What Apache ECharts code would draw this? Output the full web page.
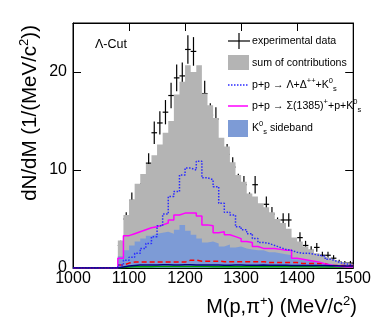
<!DOCTYPE html>
<html>
<head>
<meta charset="utf-8">
<script src="https://cdn.jsdelivr.net/npm/echarts@6/dist/echarts.min.js"></script>
<style>
html, body { margin: 0; padding: 0; background: #fff; }
#chart { width: 374px; height: 334px; }
</style>
</head>
<body>
<div id="chart"></div>
<script>
// 10 MeV bins, bins below 1080 are empty
const binCenters = [1085, 1095, 1105, 1115, 1125, 1135, 1145, 1155, 1165, 1175,
  1185, 1195, 1205, 1215, 1225, 1235, 1245, 1255, 1265, 1275,
  1285, 1295, 1305, 1315, 1325, 1335, 1345, 1355, 1365, 1375,
  1385, 1395, 1405, 1415, 1425, 1435, 1445, 1455, 1465, 1475,
  1485, 1495]
const binWidth = 10

// experimental data + errors
const dataValues = [2.3, 5.0, 6.9, 6.8, 8.6, 10.7, 13.8, 14.8, 15.9, 17.6,
  19.4, 19.6, 22.3, 22.1, 16.1, 17.8, 15.6, 15.2, 12.0, 11.6,
  10.3, 8.7, 8.5, 6.9, 8.5, 5.7, 6.5, 5.5, 4.5, 4.9,
  4.9, 2.3, 3.1, 2.3, 1.8, 2.1, 1.3, 1.3, 1.0, 0.6,
  0.5, 0.5]
const dataErrors = [0.47, 0.69, 0.81, 0.81, 0.91, 1.01, 1.15, 1.19, 1.24, 1.30,
  1.37, 1.37, 1.46, 1.46, 1.24, 1.31, 1.22, 1.21, 1.07, 1.06,
  0.99, 0.91, 0.90, 0.81, 0.90, 0.74, 0.79, 0.73, 0.66, 0.69,
  0.69, 0.47, 0.55, 0.47, 0.42, 0.45, 0.35, 0.35, 0.31, 0.24,
  0.22, 0.22]

// sum of contributions (grey)
const sumValues = [2.8, 5.4, 7.0, 8.6, 9.6, 10.6, 11.5, 12.6, 13.8, 15.0,
  17.7, 19.0, 20.7, 20.0, 20.7, 17.8, 16.6, 15.3, 13.3, 12.4,
  10.8, 9.5, 8.8, 7.6, 7.3, 6.6, 6.2, 5.7, 5.0, 4.6,
  4.0, 3.1, 2.7, 2.2, 1.9, 1.5, 1.2, 1.0, 0.8, 0.6,
  0.5, 0.4]
// p+p -> Lambda + Delta++ + K0s (blue dotted)
const lambdaDelta = [0.3, 0.8, 1.1, 1.5, 2.0, 2.5, 3.2, 4.3, 5.5, 7.3,
  7.8, 9.5, 10.2, 10.0, 10.9, 9.2, 9.0, 8.3, 6.6, 5.7,
  5.4, 4.2, 3.9, 3.5, 3.0, 2.6, 2.5, 2.3, 2.1, 1.9,
  1.8, 1.6, 1.5, 1.5, 1.4, 1.3, 1.2, 0.9, 0.7, 0.5,
  0.4, 0.3]
// p+p -> Sigma(1385)+ + p + K0s (magenta)
const sigma1385 = [1.0, 3.3, 3.5, 3.7, 3.9, 4.1, 4.2, 4.4, 4.6, 4.9,
  5.4, 5.6, 5.6, 5.6, 5.3, 4.4, 4.3, 3.6, 3.7, 3.4,
  3.2, 3.0, 2.7, 2.6, 2.2, 2.0, 2.0, 2.0, 1.9, 1.8,
  1.8, 1.0, 0.9, 0.8, 0.7, 0.6, 0.4, 0.3, 0.2, 0.15,
  0.1, 0.1]
// K0s sideband (blue fill)
const sideband = [1.2, 1.8, 2.3, 2.7, 3.0, 3.3, 3.5, 3.6, 3.7, 3.5,
  3.9, 4.4, 3.8, 3.4, 3.0, 2.6, 2.7, 2.5, 2.2, 2.4,
  2.1, 2.2, 2.0, 1.9, 1.8, 1.8, 1.6, 1.6, 1.5, 1.4,
  1.3, 0.9, 0.8, 0.8, 0.6, 0.5, 0.5, 0.4, 0.3, 0.3,
  0.2, 0.2]
// small channels near zero
const redDashed = [0.3, 0.5, 0.6, 0.6, 0.6, 0.6, 0.6, 0.6, 0.6, 0.6,
  0.6, 0.6, 0.8, 0.8, 0.7, 0.7, 0.7, 0.7, 0.65, 0.65,
  0.65, 0.65, 0.65, 0.65, 0.65, 0.65, 0.55, 0.55, 0.55, 0.55,
  0.55, 0.55, 0.45, 0.45, 0.45, 0.45, 0.45, 0.25, 0.25, 0.25,
  0.25, 0.25]
const navyLine = [0.1, 0.2, 0.25, 0.3, 0.3, 0.3, 0.3, 0.32, 0.32, 0.3,
  0.3, 0.32, 0.32, 0.3, 0.3, 0.3, 0.3, 0.3, 0.28, 0.28,
  0.3, 0.3, 0.28, 0.28, 0.28, 0.3, 0.28, 0.28, 0.28, 0.28,
  0.26, 0.26, 0.26, 0.26, 0.25, 0.25, 0.25, 0.22, 0.22, 0.2,
  0.2, 0.2]
const greenLine = [0.05, 0.1, 0.12, 0.12, 0.14, 0.14, 0.15, 0.15, 0.15, 0.15,
  0.15, 0.15, 0.15, 0.15, 0.15, 0.15, 0.14, 0.14, 0.14, 0.14,
  0.14, 0.14, 0.14, 0.14, 0.13, 0.13, 0.13, 0.13, 0.13, 0.12,
  0.12, 0.12, 0.12, 0.12, 0.12, 0.11, 0.11, 0.1, 0.1, 0.1,
  0.1, 0.1]

const xTicks = [1000, 1500, 100]
const yTicks = [0, 25, 10]

const font = 'Liberation Sans, Arial, Helvetica, sans-serif'

// histogram as step line: empty from 1000 up to first bin, then each bin from its lower edge
function histData(values) {
  const pts = [[xTicks[0], 0]]
  values.forEach((v, i) => {
    pts.push([binCenters[i] - binWidth / 2, v])
  })
  pts.push([binCenters[binCenters.length - 1] + binWidth / 2, values[values.length - 1]])
  return pts
}

function histSeries(values, opts) {
  return Object.assign({
    type: 'line',
    step: 'end',
    symbol: 'none',
    silent: true,
    data: histData(values)
  }, opts)
}

const chart = echarts.init(document.getElementById('chart'), null, { renderer: 'canvas' })

const axisCommon = {
  type: 'value',
  splitLine: { show: false },
  axisLine: { show: true, onZero: false, lineStyle: { color: '#000', width: 1 } },
  axisTick: { show: true, inside: true, length: 8, lineStyle: { color: '#000' } }
}

const supRich = {
  n: { fontSize: 10.6, fontFamily: font, lineHeight: 16 },
  sup: { fontSize: 7.5, fontFamily: font, verticalAlign: 'top', lineHeight: 16 },
  sub: { fontSize: 7.5, fontFamily: font, verticalAlign: 'bottom', lineHeight: 16 }
}

chart.setOption({
  animation: false,
  backgroundColor: '#fff',
  grid: {
    left: 73,
    right: 17,
    top: 23,
    bottom: 66,
    show: true,
    borderColor: '#000',
    borderWidth: 1
  },
  xAxis: [
    Object.assign({}, axisCommon, {
      min: xTicks[0],
      max: xTicks[1],
      interval: xTicks[2],
      position: 'bottom',
      axisLabel: {
        color: '#000',
        fontSize: 16,
        fontFamily: font,
        margin: 3,
        showMinLabel: true,
        showMaxLabel: true,
        formatter: v => String(v)
      }
    }),
    Object.assign({}, axisCommon, {
      min: xTicks[0],
      max: xTicks[1],
      interval: xTicks[2],
      position: 'top',
      axisLabel: { show: false }
    })
  ],
  yAxis: [
    Object.assign({}, axisCommon, {
      min: yTicks[0],
      max: yTicks[1],
      interval: yTicks[2],
      position: 'left',
      axisLabel: {
        color: '#000',
        fontSize: 16,
        fontFamily: font,
        margin: 6,
        showMaxLabel: false
      }
    }),
    Object.assign({}, axisCommon, {
      min: yTicks[0],
      max: yTicks[1],
      interval: yTicks[2],
      position: 'right',
      axisLabel: { show: false }
    })
  ],
  series: [
    histSeries(sumValues, {
      name: 'sum of contributions',
      lineStyle: { width: 0 },
      areaStyle: { color: '#b4b4b4', opacity: 1 }
    }),
    histSeries(sideband, {
      name: 'K0s sideband',
      lineStyle: { width: 0 },
      areaStyle: { color: '#7d9bd6', opacity: 1 }
    }),
    histSeries(greenLine, {
      lineStyle: { color: '#00a000', width: 1.5 }
    }),
    histSeries(redDashed, {
      lineStyle: { color: '#ff0000', width: 1.5, type: [5, 3] }
    }),
    histSeries(sigma1385, {
      name: 'Sigma(1385)',
      lineStyle: { color: '#ff00ff', width: 1.5 }
    }),
    histSeries(lambdaDelta, {
      name: 'Lambda Delta',
      lineStyle: { color: '#2a2aff', width: 1.5, type: [1.5, 1.5] }
    }),
    histSeries(navyLine, {
      lineStyle: { color: '#000080', width: 1.5 }
    }),
    {
      name: 'experimental data',
      type: 'custom',
      silent: true,
      data: binCenters.map((c, i) => [c, dataValues[i], dataErrors[i]]),
      renderItem(params, api) {
        const x = api.value(0)
        const y = api.value(1)
        const e = api.value(2)
        const c = api.coord([x, y])
        const l = api.coord([x - binWidth / 2, y])
        const r = api.coord([x + binWidth / 2, y])
        const t = api.coord([x, y + e])
        const b = api.coord([x, y - e])
        const st = { stroke: '#000', lineWidth: 1.2 }
        return {
          type: 'group',
          children: [
            { type: 'line', shape: { x1: l[0], y1: c[1], x2: r[0], y2: c[1] }, style: st },
            { type: 'line', shape: { x1: c[0], y1: t[1], x2: c[0], y2: b[1] }, style: st }
          ]
        }
      }
    }
  ],
  graphic: [
    // axis titles
    {
      type: 'text',
      right: 17,
      top: 295,
      style: {
        text: '{n|M(p,π}{sup|+}{n|) (MeV/c}{sup|2}{n|)}',
        fill: '#000',
        rich: {
          n: { fontSize: 20, fontFamily: font, lineHeight: 24 },
          sup: { fontSize: 13, fontFamily: font, verticalAlign: 'top', lineHeight: 24 }
        }
      }
    },
    {
      type: 'text',
      x: 30,
      y: 25,
      rotation: Math.PI / 2,
      style: {
        text: '{n|dN/dM (1/(MeV/c}{sup|2}{n|))}',
        align: 'right',
        verticalAlign: 'middle',
        fill: '#000',
        rich: {
          n: { fontSize: 20.5, fontFamily: font, lineHeight: 24 },
          sup: { fontSize: 13, fontFamily: font, verticalAlign: 'top', lineHeight: 24 }
        }
      }
    },
    {
      type: 'text',
      x: 95,
      y: 45,
      style: { text: 'Λ-Cut', fontSize: 12.5, fontFamily: font, fill: '#000', verticalAlign: 'middle' }
    },
    // legend
    { type: 'line', shape: { x1: 228, y1: 41, x2: 250, y2: 41 }, style: { stroke: '#000', lineWidth: 1.2 } },
    { type: 'line', shape: { x1: 239, y1: 33, x2: 239, y2: 49 }, style: { stroke: '#000', lineWidth: 1.2 } },
    { type: 'rect', shape: { x: 228, y: 55, width: 21, height: 15 }, style: { fill: '#b4b4b4' } },
    { type: 'line', shape: { x1: 228, y1: 85, x2: 248, y2: 85 }, style: { stroke: '#2a2aff', lineWidth: 1.5, lineDash: [1.5, 1.5] } },
    { type: 'line', shape: { x1: 228, y1: 106, x2: 248, y2: 106 }, style: { stroke: '#ff00ff', lineWidth: 1.5 } },
    { type: 'rect', shape: { x: 228, y: 120, width: 20, height: 17 }, style: { fill: '#7d9bd6' } },
    {
      type: 'text', x: 252, y: 41,
      style: { text: 'experimental data', fontSize: 10.6, fontFamily: font, fill: '#000', verticalAlign: 'middle' }
    },
    {
      type: 'text', x: 252, y: 63,
      style: { text: 'sum of contributions', fontSize: 10.6, fontFamily: font, fill: '#000', verticalAlign: 'middle' }
    },
    {
      type: 'text', x: 252, y: 85,
      style: { text: '{n|p+p → Λ+Δ}{sup|++}{n|+K}{sup|0}{sub|s}', verticalAlign: 'middle', fill: '#000', rich: supRich }
    },
    {
      type: 'text', x: 252, y: 106,
      style: { text: '{n|p+p → Σ(1385)}{sup|+}{n|+p+K}{sup|0}{sub|s}', verticalAlign: 'middle', fill: '#000', rich: supRich }
    },
    {
      type: 'text', x: 252, y: 128,
      style: { text: '{n|K}{sup|0}{sub|s}{n| sideband}', verticalAlign: 'middle', fill: '#000', rich: supRich }
    }
  ]
})
</script>
</body>
</html>
